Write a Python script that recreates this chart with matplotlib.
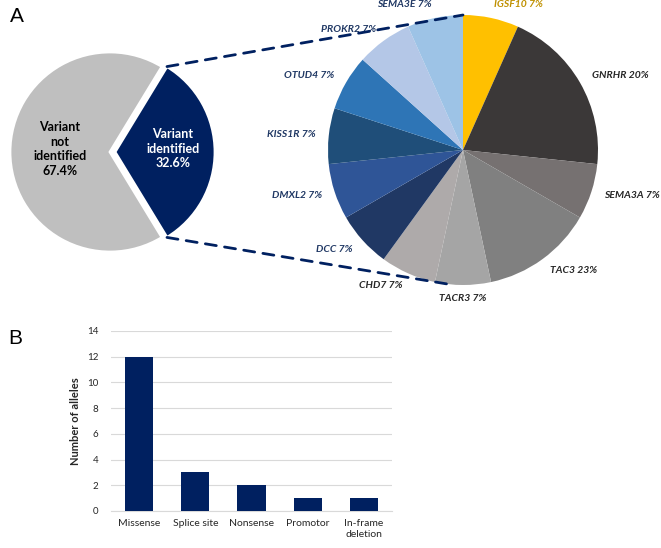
import numpy as np
import matplotlib
matplotlib.use('Agg')
import matplotlib.pyplot as plt
from matplotlib.patches import ConnectionPatch

plt.rcParams['font.family'] = ['Lato', 'DejaVu Sans']

# panel A, overview pie
overview_labels = ['Variant\nnot\nidentified\n67.4%', 'Variant\nidentified\n32.6%']
overview_values = [67.4, 32.6]
overview_colors = ['#BFBFBF', '#002060']

# panel A, gene pie (slice counts) and printed labels
genes = ['IGSF10', 'GNRHR', 'SEMA3A', 'TAC3', 'TACR3', 'CHD7',
         'DCC', 'DMXL2', 'KISS1R', 'OTUD4', 'PROKR2', 'SEMA3E']
gene_counts = [1, 3, 1, 2, 1, 1, 1, 1, 1, 1, 1, 1]
gene_pct = ['7%', '20%', '7%', '23%', '7%', '7%', '7%', '7%', '7%', '7%', '7%', '7%']
gene_colors = ['#FFC000', '#3B3838', '#767171', '#808080', '#A5A5A5', '#AEAAAA',
               '#203864', '#2F5597', '#1F4E79', '#2E75B6', '#B4C7E7', '#9DC3E6']
label_colors = ['#BF9000', '#262626', '#262626', '#262626', '#262626', '#262626',
                '#203864', '#203864', '#203864', '#203864', '#203864', '#203864']

# panel B
variant_types = ['Missense', 'Splice site', 'Nonsense', 'Promotor', 'In-frame\ndeletion']
alleles = [12, 3, 2, 1, 1]

W, H = 661, 548
fig = plt.figure(figsize=(W / 100, H / 100), dpi=100)

# small pie
ax1 = fig.add_axes([0, 1 - 262 / H, 220 / W, 220 / H])
half = overview_values[1] * 1.8
w1, _ = ax1.pie(overview_values, colors=overview_colors, startangle=half,
                counterclock=True, explode=[0, 0.05],
                wedgeprops=dict(edgecolor='white', linewidth=2))
ax1.set_xlim(-1.1, 1.1)
ax1.set_ylim(-1.1, 1.1)
ax1.set_aspect('equal')
for w, lab, col, d in zip(w1, overview_labels, ['black', 'white'], [0.5, 0.58]):
    th = np.deg2rad((w.theta1 + w.theta2) / 2)
    cx, cy = w.center
    ax1.text(cx + d * np.cos(th), cy + d * np.sin(th) + 0.03, lab, ha='center', va='center',
             color=col, fontsize=9, fontweight='bold', linespacing=1.25)

# gene pie
ax2 = fig.add_axes([(463 - 202.5) / W, 1 - (150 + 202.5) / H, 405 / W, 405 / H])
texts = [f'{g} {p}' for g, p in zip(genes, gene_pct)]
w2, t2 = ax2.pie(gene_counts, colors=gene_colors, labels=texts, startangle=90,
                 counterclock=False, labeldistance=1.1,
                 textprops=dict(fontsize=7.5, fontweight='bold', fontstyle='italic'))
for t, c in zip(t2, label_colors):
    t.set_color(c)
    x, y = t.get_position()
    if abs(x) < 0.05:
        t.set_ha('center')
ax2.set_xlim(-1.5, 1.5)
ax2.set_ylim(-1.5, 1.5)
ax2.set_aspect('equal')

# dashed connectors from the identified wedge to the gene pie
dark = w1[1]
cx, cy = dark.center
for ang, tgt in [(dark.theta2, 90), (dark.theta1, -96)]:
    a = np.deg2rad(ang)
    b = np.deg2rad(tgt)
    con = ConnectionPatch(xyA=(cx + np.cos(a), cy + np.sin(a)), coordsA=ax1.transData,
                          xyB=(np.cos(b), np.sin(b)), coordsB=ax2.transData,
                          color='#002060', linestyle=(0, (4, 3)), linewidth=2)
    fig.add_artist(con)

# bar chart
ax3 = fig.add_axes([111 / W, 1 - 511 / H, 281 / W, 180 / H])
ax3.bar(variant_types, alleles, width=0.5, color='#002060', zorder=3)
ax3.set_ylim(0, 14)
ax3.set_xlim(-0.5, 4.5)
ax3.set_yticks(range(0, 15, 2))
ax3.grid(axis='y', color='#D9D9D9', linewidth=0.8, zorder=0)
for s in ['top', 'right', 'left']:
    ax3.spines[s].set_visible(False)
ax3.spines['bottom'].set_color('#D9D9D9')
ax3.tick_params(length=0, labelsize=7.5, colors='#262626', pad=6)
ax3.tick_params(axis='y', labelsize=7, pad=9)
ax3.set_ylabel('Number of alleles', fontsize=8, fontweight='bold', color='#262626', labelpad=4)

fig.text(17 / W, 1 - 17 / H, 'A', fontsize=15, ha='center', va='center', family='Liberation Sans')
fig.text(15 / W, 1 - 338 / H, 'B', fontsize=15, ha='center', va='center', family='Liberation Sans')

fig.savefig('out.png', dpi=100)
